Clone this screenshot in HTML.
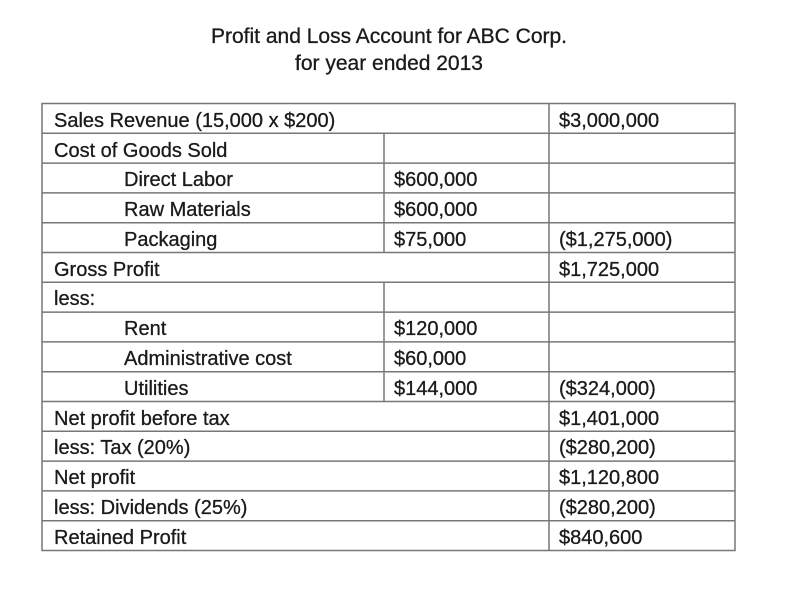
<!DOCTYPE html>
<html><head><meta charset="utf-8"><style>
html,body{margin:0;padding:0;background:#fff;}
svg{display:block;}
text{font-family:"Liberation Sans",sans-serif;font-size:20px;fill:#1a1a1a;stroke:#1a1a1a;stroke-width:0.3;}
</style></head><body>
<svg width="802" height="596" viewBox="0 0 802 596">
<text x="389" y="43" text-anchor="middle" style="font-size:21px">Profit and Loss Account for ABC Corp.</text>
<text x="389" y="70" text-anchor="middle" style="font-size:21px">for year ended 2013</text>
<g stroke="#777" stroke-width="1.5" fill="none">
<rect x="42" y="103.5" width="693" height="447"/>
<line x1="42" x2="735" y1="133.3" y2="133.3"/>
<line x1="42" x2="735" y1="163.1" y2="163.1"/>
<line x1="42" x2="735" y1="192.9" y2="192.9"/>
<line x1="42" x2="735" y1="222.7" y2="222.7"/>
<line x1="42" x2="735" y1="252.5" y2="252.5"/>
<line x1="42" x2="735" y1="282.3" y2="282.3"/>
<line x1="42" x2="735" y1="312.1" y2="312.1"/>
<line x1="42" x2="735" y1="341.9" y2="341.9"/>
<line x1="42" x2="735" y1="371.7" y2="371.7"/>
<line x1="42" x2="735" y1="401.5" y2="401.5"/>
<line x1="42" x2="735" y1="431.3" y2="431.3"/>
<line x1="42" x2="735" y1="461.1" y2="461.1"/>
<line x1="42" x2="735" y1="490.9" y2="490.9"/>
<line x1="42" x2="735" y1="520.7" y2="520.7"/>
<line x1="549" x2="549" y1="103.5" y2="550.5"/>
<line x1="384" x2="384" y1="133.3" y2="252.5"/>
<line x1="384" x2="384" y1="282.3" y2="401.5"/>
</g>
<g>
<text x="54" y="127">Sales Revenue (15,000 x $200)</text>
<text x="54" y="157">Cost of Goods Sold</text>
<text x="124" y="186">Direct Labor</text>
<text x="124" y="216">Raw Materials</text>
<text x="124" y="246">Packaging</text>
<text x="54" y="276">Gross Profit</text>
<text x="54" y="305">less:</text>
<text x="124" y="335">Rent</text>
<text x="124" y="365">Administrative cost</text>
<text x="124" y="395">Utilities</text>
<text x="54" y="425">Net profit before tax</text>
<text x="54" y="454">less: Tax (20%)</text>
<text x="54" y="484">Net profit</text>
<text x="54" y="514">less: Dividends (25%)</text>
<text x="54" y="544">Retained Profit</text>

<text x="394" y="186">$600,000</text>
<text x="394" y="216">$600,000</text>
<text x="394" y="246">$75,000</text>
<text x="394" y="335">$120,000</text>
<text x="394" y="365">$60,000</text>
<text x="394" y="395">$144,000</text>

<text x="559" y="127">$3,000,000</text>
<text x="559" y="246">($1,275,000)</text>
<text x="559" y="276">$1,725,000</text>
<text x="559" y="395">($324,000)</text>
<text x="559" y="425">$1,401,000</text>
<text x="559" y="454">($280,200)</text>
<text x="559" y="484">$1,120,800</text>
<text x="559" y="514">($280,200)</text>
<text x="559" y="544">$840,600</text>
</g>
</svg>
</body></html>
